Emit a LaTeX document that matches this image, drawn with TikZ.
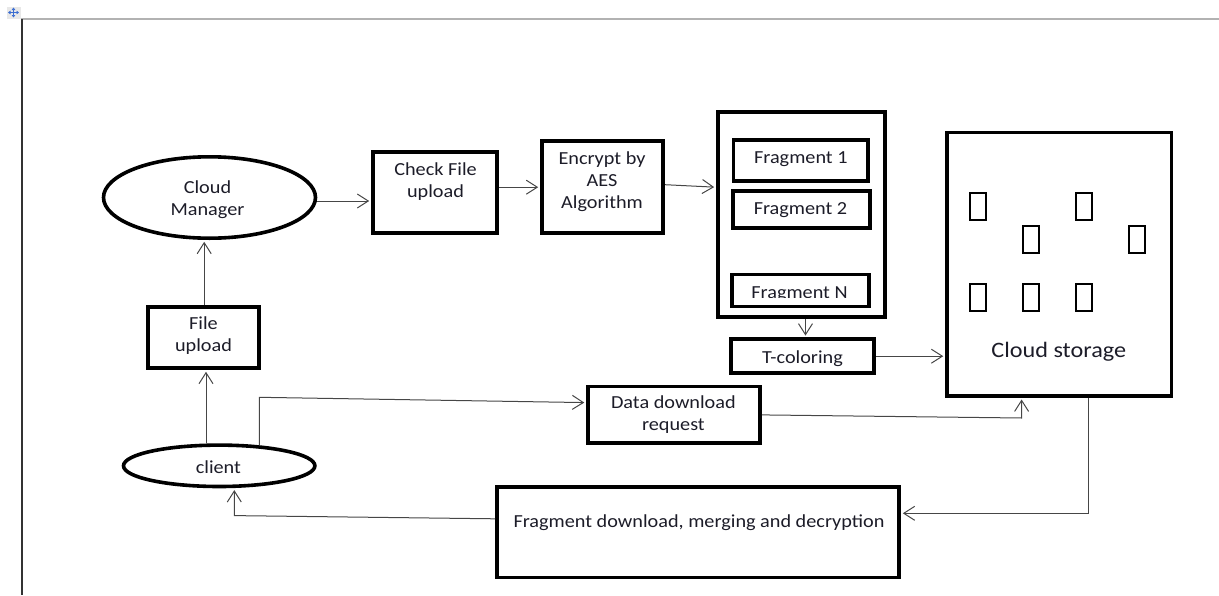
\documentclass[tikz,border=0pt]{standalone}
\usepackage{fontspec}
\setmainfont{Carlito}[FakeStretch=1.1]
\usetikzlibrary{arrows.meta,shapes.geometric}
\newcommand\mlines[1]{\vtop{\halign{\hfil##\hfil\cr#1\crcr}}}
\definecolor{inkc}{RGB}{28,28,40}
\definecolor{linec}{RGB}{70,70,70}
\definecolor{iconblue}{RGB}{60,110,210}
\begin{document}
\begin{tikzpicture}[x=1pt,y=-1pt,
  box/.style={draw=black,line width=3.6pt,inner sep=0pt,rectangle},
  oval/.style={draw=black,line width=3.6pt,inner sep=0pt,ellipse},
  srect/.style={draw=black,line width=2pt,inner sep=0pt,minimum width=16pt,minimum height=26.7pt},
  txt/.style={inner sep=0pt,anchor=base,text=inkc,font=\fontsize{18.4}{22.2}\selectfont},
  conn/.style={draw=linec,line width=1pt,-{Straight Barb[length=11pt,width=14pt]},shorten >=1.8pt},
  ]
\useasboundingbox (0,0) rectangle (1219,595);
% page frame and move icon
\fill[gray!18] (6.5,6.5) rectangle (20.5,18.5);
\draw[iconblue,line width=1.1pt,{Triangle[length=2.5pt,width=3.5pt]}-{Triangle[length=2.5pt,width=3.5pt]}] (8,12.5) -- (19,12.5);
\draw[iconblue,line width=1.1pt,{Triangle[length=2.5pt,width=3.5pt]}-{Triangle[length=2.5pt,width=3.5pt]}] (13.5,7.5) -- (13.5,17.5);
\draw[gray!60,line width=1.3pt] (21,19) -- (1219,19);
\draw[black!80,line width=1.6pt] (22,19) -- (22,595);

% shapes
\node[oval,minimum width=212pt,minimum height=81.4pt] (cm) at (209.5,197.5) {};
\node[oval,minimum width=191.4pt,minimum height=41.4pt] (client) at (219.2,465.8) {};
\node[box,minimum width=123.9pt,minimum height=81.4pt] (cf) at (434.75,192.5) {};
\node[box,minimum width=121.4pt,minimum height=92.1pt] (enc) at (602.5,187.2) {};
\node[box,minimum width=167.1pt,minimum height=205.4pt] (frag) at (801.3,214.5) {};
\node[box,minimum width=134.7pt,minimum height=41.4pt] (f1) at (800.8,160.5) {};
\node[box,minimum width=137.1pt,minimum height=37.4pt] (f2) at (801.3,209.5) {};
\node[box,minimum width=137.1pt,minimum height=32pt] (fN) at (800.3,290.5) {};
\node[box,minimum width=143.4pt,minimum height=34.1pt] (tc) at (802.5,356.2) {};
\node[box,minimum width=224.7pt,minimum height=263.4pt] (cs) at (1059.2,264.2) {};
\node[box,minimum width=111.4pt,minimum height=61.4pt] (fu) at (203.5,337.5) {};
\node[box,minimum width=172.1pt,minimum height=56.7pt] (dd) at (673.9,414.9) {};
\node[box,minimum width=402.4pt,minimum height=90.7pt] (fd) at (698,532.2) {};

% small blocks inside cloud storage
\node[srect] (s1) at (977.7,206.3) {};
\node[srect] (s2) at (1084,206.3) {};
\node[srect] (s3) at (1030.8,239.5) {};
\node[srect] (s4) at (1137,239.5) {};
\node[srect] (s5) at (977.7,297.2) {};
\node[srect] (s6) at (1030.8,297.2) {};
\node[srect] (s7) at (1084,297.2) {};

% texts
\node[txt] (cmt) at (207.5,193.3) {\mlines{Cloud\cr Manager}};
\node[txt] (clt) at (218.4,473.3) {client};
\node[txt] (cft) at (435.5,175.7) {\mlines{Check File\cr upload}};
\node[txt] (enct) at (602,164.5) {\mlines{Encrypt by\cr AES\cr Algorithm}};
\node[txt] (f1t) at (800.8,163.3) {Fragment 1};
\node[txt] (f2t) at (800.5,214.3) {Fragment 2};
\begin{scope}
  \clip (730,270) rectangle (871,297.7);
  \node[txt] (fNt) at (799.5,298) {Fragment N};
\end{scope}
\node[txt] (tct) at (802.5,363.3) {T-coloring};
\node[txt,font=\fontsize{22}{26}\selectfont] (cst) at (1058.8,357.7) {Cloud storage};
\node[txt] (fut) at (203.5,329.5) {\mlines{File\cr upload}};
\node[txt] (ddt) at (673.4,408.3) {\mlines{Data download\cr request}};
\node[txt] (fdt) at (699,527.7) {Fragment download, merging and decryption};

% connectors
\coordinate (b1) at (259.3,397.3);
\coordinate (b2) at (1021.6,418);
\coordinate (b3) at (1088.5,513.3);
\coordinate (b4) at (234.3,515.6);
\draw[conn] ([xshift=0.7pt]fu.north) -- ([xshift=0.7pt]fu.north |- cm.south);
\draw[conn] ([xshift=2.5pt]client.north -| fu.south) -- ([xshift=2.5pt]fu.south);
\draw[conn] ([yshift=-3.5pt]cm.east) -- ([yshift=-3.5pt]cm.east -| cf.west);
\draw[conn] (cf.east |- enc.west) -- (enc.west);
\draw[conn] ([yshift=2.5pt]enc.east) -- (frag.west |- enc.east);
\draw[conn] ([xshift=4.2pt]frag.south) -- ([xshift=4.2pt]frag.south |- tc.north);
\draw[conn] (tc.east) -- (tc.east -| cs.west);
\draw[conn] (b1 |- client.25) -- (b1) -- ([yshift=12.3pt]dd.west);
\draw[conn] (dd.east) -- (b2) -- (b2 |- cs.south);
\draw[conn] (b3 |- cs.south) -- (b3) -- (b3 -| fd.east);
\draw[conn] ([yshift=13.4pt]fd.west) -- (b4) -- (b4 |- client.south);
\end{tikzpicture}
\end{document}
